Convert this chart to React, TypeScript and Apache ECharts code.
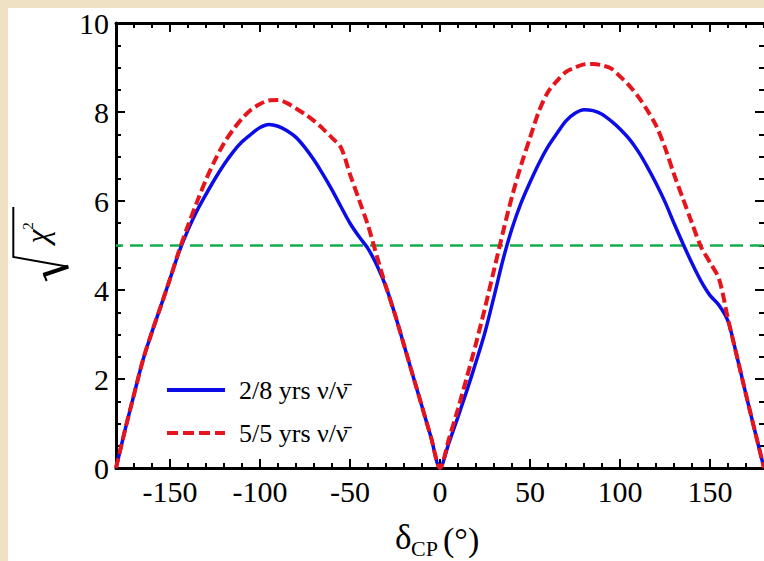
import React, { useEffect, useRef } from 'react';
import * as echarts from 'echarts';

const deltaCP = [
  -180, -175, -170, -165, -160, -155, -150, -145, -140, -135, -130, -125, -120,
  -115, -110, -105, -100, -95, -90, -85, -80, -75, -70, -65, -60, -55, -50, -45,
  -40, -35, -30, -25, -20, -15, -10, -5, 0, 5, 10, 15, 20, 25, 30, 35, 40, 45, 50,
  55, 60, 65, 70, 75, 80, 85, 90, 95, 100, 105, 110, 115, 120, 125, 130, 135, 140,
  145, 150, 155, 160, 165, 170, 175, 180,
];

const chi28 = [
  0, 0.85, 1.65, 2.43, 3.06, 3.65, 4.25, 4.85, 5.35, 5.78, 6.15, 6.5, 6.82,
  7.1, 7.33, 7.5, 7.65, 7.72, 7.68, 7.58, 7.43, 7.2, 6.92, 6.6, 6.25, 5.87, 5.5, 5.2,
  4.93, 4.55, 4.07, 3.45, 2.76, 2.07, 1.38, 0.69, 0, 0.57, 1.15, 1.75, 2.38, 3.05, 3.85, 4.68, 5.38, 5.95, 6.42,
  6.85, 7.22, 7.52, 7.8, 7.97, 8.05, 8.03, 7.95, 7.8, 7.62, 7.4, 7.12, 6.78, 6.4, 5.98, 5.5, 5.04, 4.6,
  4.2, 3.88, 3.66, 3.3, 2.5, 1.65, 0.82, 0,
];

const chi55 = [
  0, 0.85, 1.65, 2.43, 3.06, 3.65, 4.25, 4.88, 5.45, 5.98, 6.48, 6.92, 7.3,
  7.6, 7.85, 8.05, 8.18, 8.26, 8.27, 8.2, 8.08, 7.95, 7.8, 7.62, 7.42, 7.2, 6.6, 6.03,
  5.45, 4.75, 4.07, 3.45, 2.76, 2.07, 1.38, 0.69, 0, 0.66, 1.33, 2.05, 2.8, 3.6, 4.45, 5.3, 6.1, 6.8, 7.42,
  8.02, 8.45, 8.7, 8.9, 9.0, 9.07, 9.08, 9.05, 8.98, 8.8, 8.6, 8.35, 8.05, 7.7, 7.2, 6.6, 6.05, 5.5,
  4.97, 4.62, 4.25, 3.35, 2.5, 1.65, 0.82, 0,
];

const threshold = 5;
const majorXTicks = [-150, -100, -50, 0, 50, 100, 150];
const seriesNames = ['2/8 yrs ν/ν̄', '5/5 yrs ν/ν̄'];

const SERIF = 'Liberation Serif';
const BLUE = '#0c0ce8';
const RED = '#e6141c';
const GREEN = '#14ad4c';

export default function App() {
  const ref = useRef<HTMLDivElement>(null);

  useEffect(() => {
    document.documentElement.style.overflow = 'hidden';
    document.body.style.margin = '0';
    document.body.style.background = '#efe2c4';
    const chart = echarts.init(ref.current!, null, { renderer: 'svg' });

    const axisLineStyle = { color: '#000', width: 3 };
    const tickLineStyle = { color: '#000', width: 2 };

    const option: any = {
      animation: false,
      backgroundColor: '#ffffff',
      grid: { left: 108, right: 0, top: 14, bottom: 93, containLabel: false },
      xAxis: [
        {
          type: 'value', min: -180, max: 180, interval: 10, position: 'bottom',
          axisLine: { show: true, onZero: false, lineStyle: axisLineStyle },
          axisTick: { show: true, inside: true, length: 5, lineStyle: tickLineStyle },
          axisLabel: { show: false },
          splitLine: { show: false },
        },
        {
          type: 'value', min: -180, max: 180, position: 'bottom',
          axisLine: { show: false, onZero: false },
          axisTick: { show: true, inside: true, length: 9, customValues: majorXTicks, lineStyle: tickLineStyle },
          axisLabel: {
            show: true, customValues: majorXTicks, fontSize: 30, fontFamily: SERIF, color: '#000', margin: 8,
          },
          splitLine: { show: false },
        },
        {
          type: 'value', min: -180, max: 180, interval: 10, position: 'top',
          axisLine: { show: true, onZero: false, lineStyle: axisLineStyle },
          axisTick: { show: true, inside: true, length: 5, lineStyle: tickLineStyle },
          axisLabel: { show: false },
          splitLine: { show: false },
        },
        {
          type: 'value', min: -180, max: 180, position: 'top',
          axisLine: { show: false, onZero: false },
          axisTick: { show: true, inside: true, length: 9, customValues: majorXTicks, lineStyle: tickLineStyle },
          axisLabel: { show: false },
          splitLine: { show: false },
        },
      ],
      yAxis: [
        {
          type: 'value', min: 0, max: 10, interval: 2, position: 'left',
          axisLine: { show: true, onZero: false, lineStyle: axisLineStyle },
          axisTick: { show: true, inside: true, length: 9, lineStyle: tickLineStyle },
          minorTick: { show: true, splitNumber: 4, length: 5, lineStyle: tickLineStyle },
          axisLabel: { show: true, fontSize: 30, fontFamily: SERIF, color: '#000', margin: 7 },
          splitLine: { show: false },
        },
        {
          type: 'value', min: 0, max: 10, interval: 2, position: 'right',
          axisLine: { show: false, onZero: false },
          axisTick: { show: true, inside: true, length: 9, lineStyle: tickLineStyle },
          minorTick: { show: true, splitNumber: 4, length: 5, lineStyle: tickLineStyle },
          axisLabel: { show: false },
          splitLine: { show: false },
        },
      ],
      legend: {
        orient: 'vertical',
        left: 157,
        top: 369,
        padding: 0,
        itemWidth: 58,
        itemHeight: 26,
        itemGap: 17,
        selectedMode: false,
        itemStyle: { opacity: 0 },
        textStyle: { fontFamily: SERIF, fontSize: 26, color: '#000', padding: [0, 0, 0, 9] },
        data: [
          { name: seriesNames[0], itemStyle: { opacity: 0 }, lineStyle: { color: BLUE, width: 4, type: 'solid' } },
          { name: seriesNames[1], itemStyle: { opacity: 0 }, lineStyle: { color: RED, width: 4, type: [11, 5] } },
        ],
      },
      series: [
        {
          name: seriesNames[0],
          type: 'line',
          xAxisIndex: 0,
          yAxisIndex: 0,
          data: deltaCP.map((x, i) => [x, chi28[i]]),
          symbol: 'none',
          showSymbol: false,
          smooth: 0.3,
          lineStyle: { color: BLUE, width: 3.5 },
          itemStyle: { color: BLUE },
          z: 3,
          markLine: {
            silent: true,
            symbol: ['none', 'none'],
            label: { show: false },
            lineStyle: { color: GREEN, width: 2.5, type: [13, 7], dashOffset: 6 },
            data: [[{ coord: [-180, threshold] }, { coord: [180, threshold] }]],
            z: 2,
          },
        },
        {
          name: seriesNames[1],
          type: 'line',
          xAxisIndex: 0,
          yAxisIndex: 0,
          data: deltaCP.map((x, i) => [x, chi55[i]]),
          symbol: 'none',
          showSymbol: false,
          smooth: 0.3,
          lineStyle: { color: RED, width: 4, type: [10, 4.5] },
          itemStyle: { color: RED },
          z: 4,
        },
      ],
      graphic: [
        // x-axis title: δ_CP (°)
        {
          type: 'text', x: 387, y: 529,
          style: { text: 'δ', font: `35px "${SERIF}"`, fill: '#000', align: 'left', verticalAlign: 'middle', textAlign: 'left', textVerticalAlign: 'middle' },
        },
        {
          type: 'text', x: 403, y: 540,
          style: { text: 'CP', font: `22px "${SERIF}"`, fill: '#000', align: 'left', verticalAlign: 'middle', textAlign: 'left', textVerticalAlign: 'middle' },
        },
        {
          type: 'text', x: 435, y: 531,
          style: { text: '(°)', font: `34px "${SERIF}"`, fill: '#000', align: 'left', verticalAlign: 'middle', textAlign: 'left', textVerticalAlign: 'middle' },
        },
        // y-axis title: sqrt(chi^2), rotated
        {
          type: 'polyline',
          shape: { points: [[5.3, 199], [5.3, 249], [60.3, 258.7]] },
          style: { stroke: '#000', lineWidth: 2, fill: null },
        },
        {
          type: 'polyline',
          shape: { points: [[60.3, 258.7], [35.3, 267]] },
          style: { stroke: '#000', lineWidth: 4, fill: null },
        },
        {
          type: 'polyline',
          shape: { points: [[36, 266.5], [38.7, 273]] },
          style: { stroke: '#000', lineWidth: 2, fill: null },
        },
        {
          type: 'text', x: 28.5, y: 228.5, rotation: Math.PI / 2,
          style: { text: 'χ', font: `italic 32px "${SERIF}"`, fill: '#000', align: 'center', verticalAlign: 'middle', textAlign: 'center', textVerticalAlign: 'middle' },
        },
        {
          type: 'text', x: 20, y: 218, rotation: Math.PI / 2,
          style: { text: '2', font: `15px "${SERIF}"`, fill: '#000', align: 'center', verticalAlign: 'middle', textAlign: 'center', textVerticalAlign: 'middle' },
        },
      ],
    };

    chart.setOption(option);
    return () => chart.dispose();
  }, []);

  return (
    <div
      ref={ref}
      style={{ width: 756, height: 553, marginLeft: 8, paddingTop: 0, position: 'absolute', left: 0, top: 8, background: '#ffffff' }}
    />
  );
}
